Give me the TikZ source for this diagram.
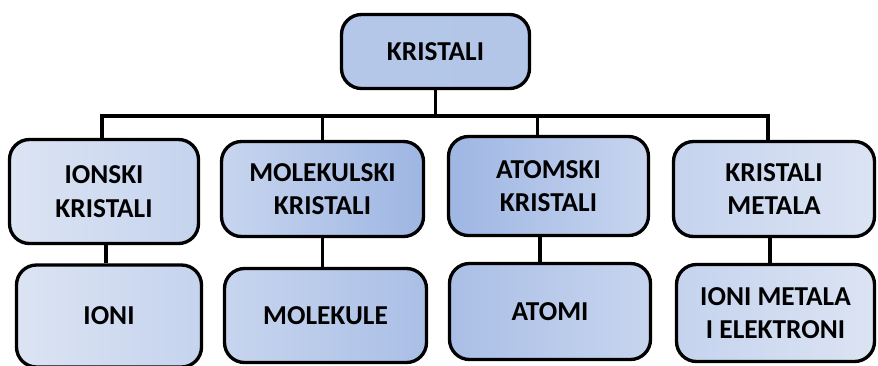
\documentclass[tikz,border=0pt]{standalone}
\usepackage{fontspec}
\setmainfont{Carlito}[BoldFont={Carlito Bold}]
\usepackage{tikz}
\usetikzlibrary{positioning}

\definecolor{pale}{HTML}{DCE4F3}
\definecolor{mid}{HTML}{C5D3EE}
\definecolor{deep}{HTML}{9EB6E3}
\definecolor{soft}{HTML}{AABFE6}
\definecolor{top}{HTML}{B4C7E8}

\begin{document}
\begin{tikzpicture}[x=0.75pt,y=-0.75pt,
	box/.style={draw=black, line width=2.5pt, rounded corners=15pt, align=center,
	  font=\fontsize{20.5}{25}\selectfont\bfseries, inner sep=2pt},
	link/.style={draw=black, line width=2.3pt}]
	\useasboundingbox (0,0) rectangle (878,365);

	% root
	\node[box, left color=top, right color=top!95!deep, minimum width=141pt, minimum height=55.5pt]
	  (kristali) at (435.5,51.5) {KRISTALI};

	% kinds of crystals
	\node[box, left color=pale, right color=mid, minimum width=141.75pt, minimum height=78pt]
	  (ionski) at (104,191.5) {IONSKI\\KRISTALI};
	\node[box, left color=mid!90!pale, right color=deep, minimum width=151.5pt, minimum height=71.25pt]
	  (molekulski) at (322.5,189) {MOLEKULSKI\\KRISTALI};
	\node[box, left color=deep, right color=mid!90!pale, minimum width=150pt, minimum height=74.25pt]
	  (atomski) at (548.5,186) {ATOMSKI\\KRISTALI};
	\node[box, left color=mid, right color=pale, minimum width=150.75pt, minimum height=71.25pt]
	  (metalni) at (774,189) {KRISTALI\\METALA};

	% building units
	\node[box, left color=pale, right color=mid, minimum width=138.75pt, minimum height=76.5pt]
	  (ioni) at (109,316) {IONI};
	\node[box, left color=mid!90!pale, right color=soft, minimum width=151.5pt, minimum height=70.5pt]
	  (molekule) at (325.5,315.5) {MOLEKULE};
	\node[box, left color=soft, right color=mid!90!pale, minimum width=150.75pt, minimum height=72pt]
	  (atomi) at (550,311.5) {ATOMI};
	\node[box, left color=mid, right color=pale, minimum width=148.5pt, minimum height=72.75pt]
	  (elektroni) at (775.5,313) {IONI METALA\\I ELEKTRONI};

	% tree lines
	\coordinate (bus) at (0,116);
	\draw[link] (kristali.south) -- (kristali.south |- bus);
	\draw[link] ([xshift=-1.5pt]ionski.north) |- ([xshift=-4.5pt]metalni.north |- bus)
	  -- ([xshift=-4.5pt]metalni.north);
	\draw[link] (molekulski.north) -- (molekulski.north |- bus);
	\draw[link] ([xshift=-8.6pt]atomski.north) -- ([xshift=-8.6pt]atomski.north |- bus);

	\draw[link] ([xshift=1.5pt]ionski.south) -- ([xshift=1.5pt]ionski.south |- ioni.north);
	\draw[link] (molekulski.south) -- (molekulski.south |- molekule.north);
	\draw[link] ([xshift=-6.4pt]atomski.south) -- ([xshift=-6.4pt]atomski.south |- atomi.north);
	\draw[link] ([xshift=-3pt]metalni.south) -- ([xshift=-3pt]metalni.south |- elektroni.north);
\end{tikzpicture}
\end{document}
